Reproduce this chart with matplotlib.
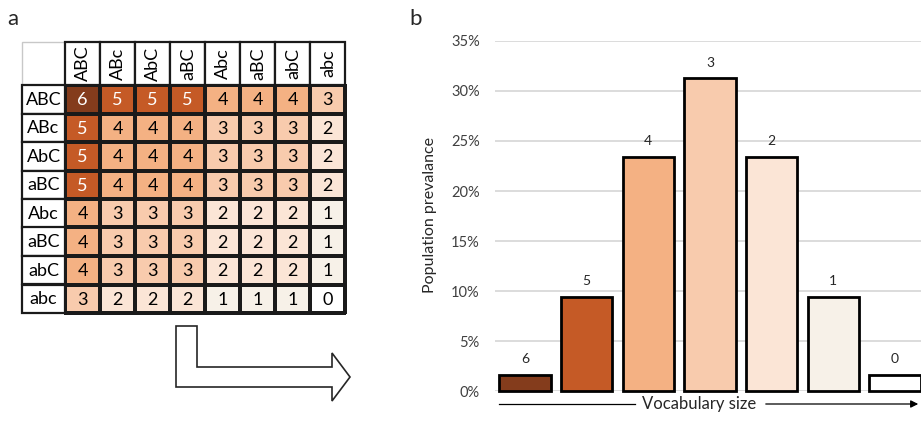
import numpy as np
import matplotlib.pyplot as plt
from matplotlib.colors import ListedColormap, BoundaryNorm
from matplotlib.patches import Rectangle, Polygon, FancyArrowPatch
from matplotlib.lines import Line2D

plt.rcParams['font.family'] = ['Lato', 'DejaVu Sans']

# table labels (as printed in the figure)
col_labels = ['ABC', 'ABc', 'AbC', 'aBC', 'Abc', 'aBC', 'abC', 'abc']
row_labels = ['ABC', 'ABc', 'AbC', 'aBC', 'Abc', 'aBC', 'abC', 'abc']
vocab = np.array([
    [6, 5, 5, 5, 4, 4, 4, 3],
    [5, 4, 4, 4, 3, 3, 3, 2],
    [5, 4, 4, 4, 3, 3, 3, 2],
    [5, 4, 4, 4, 3, 3, 3, 2],
    [4, 3, 3, 3, 2, 2, 2, 1],
    [4, 3, 3, 3, 2, 2, 2, 1],
    [4, 3, 3, 3, 2, 2, 2, 1],
    [3, 2, 2, 2, 1, 1, 1, 0],
])

# bar chart data
sizes = ['6', '5', '4', '3', '2', '1', '0']
prevalence = [1.56, 9.38, 23.44, 31.25, 23.44, 9.38, 1.56]

# colour for vocabulary size 0..6
shades = ['#FFFFFF', '#F7F1E8', '#FBE5D6', '#F8CBAD', '#F4B183', '#C55A26', '#843C1C']

W, H = 921, 423
fig = plt.figure(figsize=(W / 100, H / 100), dpi=100)


def box(l, t, r, b):
    return [l / W, 1 - b / H, (r - l) / W, (b - t) / H]


# ---- panel a: table ----
axa = fig.add_axes(box(22, 42, 345, 313))
hw, hh = 43 / 35, 43 / 28.5
axa.set_xlim(-hw, 8)
axa.set_ylim(8, -hh)
axa.axis('off')

cmap = ListedColormap(shades)
norm = BoundaryNorm(np.arange(-0.5, 7.5), 7)
axa.add_patch(Rectangle((-hw, -hh), hw, hh, fc='white', ec='#C8C8C8', lw=1, clip_on=False))
axa.pcolormesh(np.arange(9), np.arange(9), vocab, cmap=cmap, norm=norm,
               edgecolor='#1a1a1a', linewidth=1.6, clip_on=False)
for j, lab in enumerate(col_labels):
    axa.add_patch(Rectangle((j, -hh), 1, hh, fc='white', ec='#1a1a1a', lw=1.6, clip_on=False))
    axa.text(j + 0.52, -hh / 2, lab, rotation=90, ha='center', va='center', fontsize=13)
for i, lab in enumerate(row_labels):
    axa.add_patch(Rectangle((-hw, i), hw, 1, fc='white', ec='#1a1a1a', lw=1.6, clip_on=False))
    axa.text(-hw / 2, i + 0.52, lab, ha='center', va='center', fontsize=13)
for i in range(8):
    for j in range(8):
        v = vocab[i, j]
        axa.text(j + 0.5, i + 0.54, str(v), ha='center', va='center', fontsize=13,
                 color='white' if v >= 5 else 'black')

# L-shaped arrow under the table
pts = [(176, 326), (197, 326), (197, 367), (332, 367), (332, 353), (350, 377),
       (332, 401), (332, 387), (176, 387)]
fig.add_artist(Polygon([(x / W, 1 - y / H) for x, y in pts], closed=True, fc='white',
                       ec='#262626', lw=1.2, transform=fig.transFigure))

# ---- panel b: bars ----
axb = fig.add_axes(box(495, 41, 921, 391))
x = np.arange(len(sizes))
axb.bar(x, prevalence, width=0.83, color=shades[::-1], edgecolor='black', linewidth=2,
        clip_on=False, zorder=3)
for xi, v, s in zip(x, prevalence, sizes):
    axb.annotate(s, (xi, v), xytext=(0, 11.5), textcoords='offset points',
                 ha='center', va='center', fontsize=10, color='#262626')
axb.set_xlim(-0.486, 6.42)
axb.set_ylim(0, 35)
axb.set_yticks(range(0, 36, 5))
axb.set_yticklabels([f'{v}%' for v in range(0, 36, 5)])
axb.set_xticks([])
axb.tick_params(axis='y', length=0, pad=11, labelsize=10.5, labelcolor='#404040')
axb.yaxis.grid(True, color='#D9D9D9', lw=1.3)
axb.set_axisbelow(True)
for sp in axb.spines.values():
    sp.set_visible(False)

fig.text(430 / W, 1 - 215 / H, 'Population prevalance', rotation=90, ha='center',
         va='center', fontsize=11.5, color='#262626')

# x axis caption with arrow
yb = 1 - 404 / H
fig.text(699 / W, yb, 'Vocabulary size', ha='center', va='center', fontsize=12,
         color='#262626')
fig.add_artist(Line2D([499 / W, 635 / W], [yb, yb], color='black', lw=0.9,
                      transform=fig.transFigure))
fig.add_artist(FancyArrowPatch((763 / W, yb), (921 / W, yb), arrowstyle='-|>',
                               mutation_scale=11, color='black', lw=0.9,
                               transform=fig.transFigure))

# panel letters
fig.text(7 / W, 1 - 25 / H, 'a', fontsize=16, color='#262626', va='baseline')
fig.text(409 / W, 1 - 25 / H, 'b', fontsize=16, color='#262626', va='baseline')

fig.savefig('out.png', dpi=100)
